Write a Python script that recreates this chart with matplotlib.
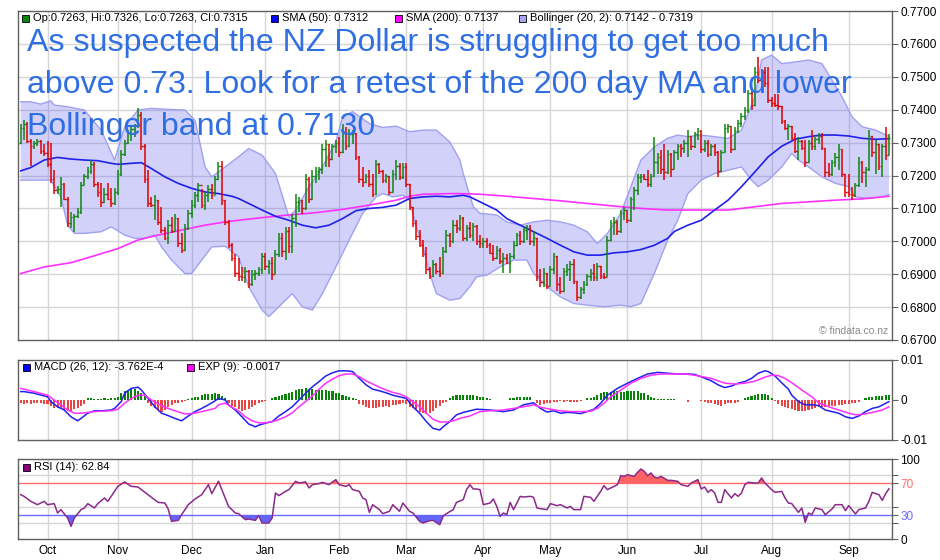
import numpy as np
import pandas as pd
import matplotlib as mpl
from matplotlib import pyplot as plt
from matplotlib.patches import Rectangle

mpl.use("Agg")
mpl.rcParams["font.family"] = ["Liberation Sans", "DejaVu Sans"]

W, H = 940, 560

# ---- daily OHLC bars (prices in pips, 1e-4) ----
first_open = 7300
high = [
    7358, 7368, 7363, 7310, 7305, 7312, 7307, 7297,
    7305, 7300, 7216, 7168, 7196, 7176, 7135, 7090, 7084, 7100, 7181, 7206, 7226, 7247, 7240, 7181, 7176, 7161, 7176, 7161, 7161,
    7216, 7277, 7307, 7338, 7348, 7358, 7404, 7394, 7297, 7216, 7135, 7140, 7125, 7105, 7044, 7064, 7074, 7084, 7070, 7024, 7054, 7095,
    7125, 7150, 7176, 7160, 7150, 7170, 7175, 7200, 7240, 7245, 7125, 7065, 6995, 6960, 6950, 6922, 6922, 6912, 6912, 6912, 6922, 6963,
    6963, 6943, 6953, 6973, 7024, 7024, 7044, 7044, 7084, 7145, 7135, 7125, 7206, 7195, 7216, 7226, 7226, 7297, 7307, 7295, 7297, 7307,
    7318, 7358, 7348, 7340, 7338, 7330, 7260, 7226, 7206, 7216, 7206, 7247, 7237, 7216, 7206, 7200, 7216, 7247, 7237, 7237,
    7237, 7175, 7105, 7064, 7034, 7004, 6983, 6922, 6943, 6933, 6953, 6983, 7034, 7024, 7064, 7064, 7080, 7075, 7050, 7060, 7055, 7050, 7020,
    7010, 7010, 6995, 6990, 6985, 6980, 6965, 6960, 6965, 7000, 7025, 7030, 7040, 7050, 7050, 7030, 7010, 6915, 6920, 6905,
    6925, 6965, 6955, 6890, 6920, 6930, 6940, 6945, 6880, 6860, 6880, 6900, 6915, 6930, 6935, 6925, 6905, 7015, 7065, 7075, 7065, 7095, 7105,
    7095, 7135, 7166, 7206, 7206, 7206, 7216, 7206, 7318, 7267, 7277, 7297, 7277, 7267, 7277, 7297, 7297, 7307, 7338, 7320, 7333, 7343,
    7338, 7307, 7307, 7297, 7297, 7275, 7277, 7358, 7358, 7350, 7348, 7368, 7389, 7409, 7460, 7460, 7530, 7561, 7525, 7530, 7530,
    7440, 7449, 7449, 7410, 7368, 7358, 7350, 7328, 7318, 7307, 7307, 7307, 7338, 7318, 7328, 7328, 7285, 7237, 7247, 7267, 7297, 7280, 7206,
    7206, 7166, 7176, 7257, 7245, 7226, 7338, 7320, 7307, 7297, 7297, 7348, 7326,
]
low = [
    7297, 7307, 7300, 7228, 7280, 7290, 7265, 7260,
    7226, 7176, 7145, 7145, 7105, 7125, 7044, 7039, 7029, 7070, 7084, 7170, 7190, 7205, 7166, 7135, 7105, 7115, 7125, 7105, 7110,
    7140, 7200, 7260, 7295, 7305, 7318, 7345, 7277, 7176, 7105, 7105, 7064, 7049, 7024, 7004, 6993, 7024, 7030, 6983, 6963, 6970, 7035,
    7070, 7100, 7120, 7100, 7095, 7120, 7130, 7140, 7185, 7110, 7050, 6980, 6940, 6890, 6880, 6880, 6872, 6857, 6865, 6882, 6895, 6902,
    6912, 6902, 6882, 6900, 6953, 6953, 6943, 6963, 6963, 7044, 7090, 7084, 7095, 7115, 7125, 7176, 7186, 7206, 7226, 7226, 7247, 7267,
    7257, 7267, 7277, 7287, 7297, 7247, 7176, 7166, 7176, 7166, 7135, 7140, 7206, 7176, 7176, 7140, 7150, 7186, 7186, 7190,
    7166, 7095, 7044, 7004, 6983, 6953, 6902, 6885, 6892, 6902, 6892, 6900, 6963, 6983, 6995, 7024, 7030, 7000, 7000, 7010, 7000, 6990, 6980,
    6980, 6980, 6960, 6940, 6945, 6930, 6905, 6930, 6905, 6945, 6985, 6990, 6995, 7005, 6990, 6985, 6880, 6860, 6860, 6855,
    6865, 6900, 6850, 6840, 6845, 6895, 6880, 6870, 6820, 6825, 6840, 6865, 6880, 6880, 6880, 6885, 6885, 6890, 7000, 7020, 7020, 7025, 7065,
    7055, 7060, 7095, 7140, 7176, 7186, 7166, 7166, 7196, 7206, 7206, 7186, 7205, 7196, 7220, 7247, 7257, 7267, 7257, 7277, 7285, 7307,
    7267, 7270, 7257, 7260, 7260, 7196, 7210, 7270, 7328, 7267, 7277, 7328, 7348, 7368, 7389, 7399, 7410, 7480, 7480, 7470, 7419,
    7409, 7409, 7399, 7358, 7338, 7307, 7307, 7267, 7247, 7277, 7226, 7240, 7277, 7277, 7297, 7277, 7196, 7196, 7200, 7226, 7216, 7196, 7135,
    7135, 7125, 7135, 7166, 7176, 7166, 7215, 7257, 7206, 7216, 7196, 7247, 7263,
]
close = [
    7345, 7358, 7305, 7290, 7300, 7305, 7275, 7268,
    7235, 7190, 7155, 7160, 7175, 7130, 7055, 7075, 7078, 7090, 7170, 7200, 7215, 7235, 7175, 7150, 7120, 7145, 7130, 7115, 7150,
    7205, 7265, 7300, 7330, 7340, 7350, 7385, 7290, 7190, 7115, 7110, 7125, 7060, 7035, 7010, 7050, 7030, 7070, 6995, 6975, 7040, 7085,
    7110, 7140, 7170, 7110, 7140, 7160, 7140, 7190, 7230, 7125, 7060, 6990, 6950, 6905, 6895, 6890, 6910, 6870, 6900, 6905, 6915, 6955,
    6925, 6935, 6900, 6960, 7010, 6970, 7030, 6985, 7070, 7120, 7125, 7100, 7190, 7130, 7200, 7215, 7220, 7280, 7295, 7250, 7290, 7300,
    7270, 7330, 7290, 7325, 7330, 7255, 7190, 7180, 7200, 7175, 7145, 7235, 7215, 7185, 7200, 7150, 7205, 7230, 7195, 7225,
    7175, 7105, 7055, 7015, 6990, 6960, 6915, 6895, 6930, 6910, 6905, 6970, 7020, 7000, 7050, 7040, 7070, 7010, 7040, 7020, 7045, 7000, 6995,
    7000, 6990, 6965, 6950, 6975, 6940, 6950, 6935, 6955, 6990, 7020, 7000, 7035, 7040, 7000, 7010, 6895, 6875, 6905, 6865,
    6915, 6955, 6870, 6850, 6910, 6915, 6930, 6880, 6830, 6855, 6870, 6895, 6905, 6890, 6925, 6895, 6890, 7005, 7055, 7060, 7030, 7085, 7095,
    7065, 7130, 7155, 7195, 7200, 7190, 7175, 7200, 7240, 7255, 7220, 7210, 7265, 7220, 7270, 7290, 7285, 7300, 7320, 7290, 7325, 7335,
    7280, 7300, 7265, 7290, 7270, 7215, 7270, 7345, 7350, 7280, 7335, 7360, 7380, 7400, 7450, 7415, 7515, 7490, 7515, 7480, 7430,
    7420, 7415, 7410, 7365, 7345, 7350, 7315, 7275, 7305, 7285, 7240, 7300, 7290, 7310, 7320, 7285, 7210, 7205, 7240, 7255, 7280, 7205, 7150,
    7145, 7140, 7170, 7240, 7210, 7220, 7320, 7270, 7295, 7230, 7290, 7263, 7315,
]

# ---- overlays on the price panel: (bar index, pips) ----
sma50 = [(0, 7214), (3, 7224), (7, 7247), (11, 7255), (15, 7250), (19, 7247), (23, 7245), (27, 7237),
         (29, 7234), (33, 7237), (36, 7239), (39, 7221), (43, 7196), (47, 7176), (51, 7161), (55, 7150),
         (59, 7145), (63, 7137), (65, 7130), (68, 7115), (72, 7095), (76, 7076), (80, 7064), (84, 7049),
         (88, 7041), (92, 7049), (96, 7069), (100, 7093), (104, 7100), (108, 7103), (112, 7110), (114, 7120),
         (116, 7130), (120, 7135), (124, 7137), (128, 7135), (132, 7140), (134, 7135), (137, 7120), (142, 7095),
         (145, 7069), (149, 7049), (153, 7029), (157, 7009), (161, 6988), (165, 6968), (169, 6958), (173, 6958),
         (177, 6965), (181, 6968), (185, 6975), (189, 6988), (193, 7009), (195, 7030), (199, 7049), (203, 7064),
         (207, 7095), (211, 7125), (215, 7166), (219, 7211), (223, 7257), (227, 7289), (231, 7310), (235, 7318),
         (239, 7323), (243, 7323), (247, 7320), (251, 7313), (255, 7310), (259, 7312)]
sma200 = [(0, 6902), (7, 6922), (15, 6935), (21, 6953), (29, 6978), (35, 7004), (41, 7019), (47, 7032),
          (55, 7049), (61, 7059), (65, 7064), (72, 7072), (80, 7080), (88, 7087), (96, 7097), (104, 7110),
          (112, 7125), (116, 7137), (120, 7143), (128, 7145), (131, 7145), (137, 7143), (145, 7137), (153, 7130),
          (161, 7123), (169, 7115), (177, 7107), (185, 7100), (193, 7095), (203, 7095), (211, 7095), (219, 7105),
          (227, 7115), (235, 7120), (243, 7125), (251, 7129), (259, 7137)]
boll_upper = [(0, 7424), (3, 7424), (6, 7417), (9, 7427), (10, 7414), (14, 7409), (19, 7399), (24, 7338),
              (28, 7247), (31, 7348), (35, 7399), (39, 7404), (44, 7401), (49, 7399), (52, 7368), (55, 7226),
              (57, 7196), (61, 7226), (65, 7257), (68, 7282), (72, 7262), (76, 7206), (80, 7074), (82, 7095),
              (86, 7166), (90, 7226), (94, 7302), (96, 7378), (99, 7394), (104, 7358), (108, 7346), (112, 7350),
              (116, 7333), (120, 7338), (124, 7338), (128, 7302), (131, 7247), (132, 7206), (135, 7105), (137, 7085),
              (142, 7080), (145, 7059), (149, 7049), (153, 7059), (157, 7064), (161, 7059), (165, 7049), (169, 7029),
              (172, 6993), (175, 7024), (179, 7085), (182, 7166), (185, 7247), (189, 7287), (193, 7313), (196, 7323),
              (199, 7318), (203, 7323), (207, 7318), (211, 7313), (215, 7338), (219, 7439), (221, 7551), (224, 7566),
              (227, 7540), (231, 7545), (235, 7551), (239, 7540), (242, 7490), (245, 7439), (248, 7378), (251, 7348),
              (255, 7338), (259, 7319)]
boll_lower = [(0, 7186), (5, 7186), (9, 7186), (12, 7135), (14, 7049), (16, 7024), (19, 7024), (24, 7029),
              (27, 7044), (31, 7019), (34, 7009), (37, 7009), (40, 7019), (42, 6983), (45, 6943), (49, 6902),
              (51, 6902), (54, 6943), (57, 6983), (61, 6985), (65, 6953), (68, 6862), (72, 6791), (74, 6771),
              (78, 6811), (81, 6841), (84, 6801), (87, 6791), (90, 6841), (94, 6922), (98, 7004), (102, 7085),
              (106, 7135), (108, 7145), (111, 7135), (114, 7140), (116, 7125), (118, 7044), (120, 6983), (122, 6902),
              (124, 6841), (128, 6821), (131, 6826), (134, 6862), (136, 6892), (139, 6897), (143, 6922), (147, 6943),
              (151, 6943), (153, 6902), (157, 6862), (161, 6831), (165, 6811), (169, 6806), (174, 6801), (179, 6806),
              (182, 6801), (185, 6811), (189, 6902), (193, 7004), (196, 7064), (199, 7145), (203, 7186), (207, 7206),
              (211, 7216), (215, 7226), (218, 7186), (220, 7166), (223, 7186), (227, 7226), (230, 7267), (232, 7247),
              (235, 7226), (239, 7196), (243, 7176), (247, 7166), (249, 7135), (253, 7130), (257, 7135), (259, 7142)]

# ---- MACD panel (1e-4 units) ----
macd_hist = [
    -8, -9, -8, -9, -8, -7, -8, -9,
    -10, -15, -20, -21, -23, -25, -27, -29, -23, -20, -16, -10, 6, 6, 3, 3, 3, 4, 3, 4, 6,
    8, 18, 23, 25, 27, 27, 23, 17, 10, -8, -15, -21, -25, -29, -25, -17, -12, -8, -7, -4, -3, 3,
    4, 7, 8, 12, 14, 15, 14, 17, 15, 10, 4, -8, -15, -18, -23, -27, -25, -23, -17, -12, -8, -4,
    -2, -1, 4, 8, 11, 12, 14, 18, 21, 25, 27, 28, 29, 27, 28, 25, 25, 25, 24, 23, 22, 18,
    17, 12, 10, 8, 6, 2, -10, -12, -17, -21, -21, -21, -18, -18, -15, -17, -12, -12, -10, -8,
    -10, -17, -21, -25, -29, -33, -35, -33, -27, -21, -15, -7, -4, 4, 11, 12, 12, 12, 12, 12, 12, 11, 8,
    7, 4, 2, 1, 0, 0, -1, 0, 4, 6, 8, 8, 8, 8, 7, 0, -8, -12, -10, -7,
    -7, -5, -5, -3, -4, -3, -5, -6, -5, -3, -1, 4, 4, 7, 12, 17, 20, 21, 21, 22, 23, 21, 21,
    22, 23, 22, 22, 18, 17, 12, 8, 6, 3, 3, 2, 2, 2, 2, 1, 0, 0, -4, 0, 0, 0,
    -3, -5, -7, -8, -10, -13, -15, -11, -8, -8, -7, -4, 0, 4, 8, 11, 13, 15, 15, 15, 12,
    4, -3, -10, -15, -18, -21, -23, -25, -27, -28, -27, -25, -23, -21, -18, -18, -17, -15, -15, -15, -12, -12, -11,
    -10, -8, -7, -4, 0, 4, 7, 8, 10, 10, 11, 12, 13,
]
macd_line = [(0, 21), (1, 21), (4, 17), (8, 8), (9, -4), (11, -17), (13, -25), (15, -42), (17, -52), (18, -46),
             (20, -33), (22, -27), (24, -27), (27, -25), (28, -21), (30, -4), (31, 17), (33, 29), (35, 32), (36, 25),
             (38, 4), (40, -17), (42, -33), (44, -39), (46, -46), (48, -52), (50, -40), (52, -29), (54, -21), (56, -12),
             (58, -2), (59, 4), (61, 0), (62, -12), (64, -25), (66, -42), (68, -60), (70, -67), (71, -63), (73, -58),
             (75, -54), (77, -40), (79, -29), (81, -17), (83, 0), (85, 17), (87, 33), (89, 46), (91, 60), (93, 68),
             (95, 73), (97, 73), (99, 71), (101, 54), (103, 38), (105, 27), (107, 23), (109, 18), (111, 12), (113, 8),
             (115, 4), (117, -17), (119, -33), (121, -54), (123, -71), (125, -75), (126, -67), (128, -54), (130, -37),
             (132, -31), (134, -27), (136, -23), (140, -25), (144, -29), (147, -25), (150, -12), (153, -7), (155, -21),
             (157, -30), (159, -27), (161, -33), (163, -31), (165, -32), (167, -34), (169, -29), (171, -23), (173, -8),
             (175, 12), (178, 29), (181, 42), (184, 54), (187, 65), (190, 69), (193, 67), (196, 65), (199, 65),
             (201, 64), (203, 58), (206, 48), (208, 38), (210, 31), (212, 35), (214, 42), (216, 46), (218, 54),
             (220, 67), (222, 73), (223, 71), (225, 60), (227, 43), (229, 27), (230, 12), (232, -4), (234, -12),
             (236, -12), (238, -14), (240, -25), (242, -29), (244, -33), (246, -42), (248, -46), (250, -40),
             (252, -29), (254, -21), (256, -17), (259, -4)]
macd_signal = [(0, 29), (4, 21), (8, 12), (10, 0), (12, -12), (14, -25), (16, -33), (18, -33), (20, -31), (22, -29),
               (24, -28), (27, -27), (29, -23), (31, -8), (33, 4), (35, 12), (37, 12), (39, 0), (41, -10), (43, -18),
               (46, -27), (49, -35), (52, -33), (55, -27), (58, -21), (59, -12), (61, -8), (63, -18), (65, -27),
               (67, -42), (69, -52), (71, -57), (73, -57), (76, -52), (79, -42), (81, -32), (83, -17), (85, -4),
               (87, 10), (89, 27), (91, 42), (93, 52), (95, 61), (97, 65), (99, 65), (101, 58), (103, 48), (105, 40),
               (107, 32), (109, 25), (111, 19), (113, 15), (115, 8), (117, -4), (119, -17), (121, -33), (123, -48),
               (125, -55), (127, -55), (129, -52), (131, -46), (134, -40), (137, -29), (140, -27), (144, -25),
               (147, -21), (150, -17), (153, -12), (155, -18), (158, -23), (161, -27), (164, -29), (167, -29),
               (170, -28), (172, -21), (174, -8), (176, 8), (179, 25), (182, 42), (185, 54), (188, 62), (191, 65),
               (194, 65), (198, 65), (201, 62), (206, 54), (210, 42), (213, 40), (216, 42), (219, 47), (222, 57),
               (224, 62), (226, 61), (228, 54), (230, 43), (233, 25), (236, 8), (238, -7), (241, -17), (244, -25),
               (247, -33), (249, -37), (251, -36), (254, -31), (257, -25), (259, -17)]

# ---- RSI (14) ----
rsi = [(0, 55.4), (1, 53.3), (3, 47.1), (5, 42.9), (7, 47.1), (8, 42.9), (10, 44.2), (11, 32.5), (12, 36.7),
       (14, 26.3), (15, 15.8), (16, 26.3), (18, 36.7), (19, 38.8), (20, 44.2), (22, 38.8), (23, 44.2), (25, 51.3),
       (26, 47.1), (28, 59.6), (29, 65.8), (31, 71.3), (33, 65.8), (35, 65.0), (36, 61.7), (38, 55.4), (40, 49.2),
       (41, 45.8), (43, 45.0), (44, 37.5), (45, 22.1), (47, 23.3), (48, 30.4), (50, 42.9), (52, 50.0), (54, 55.4),
       (56, 67.9), (57, 56.7), (59, 72.1), (61, 51.3), (62, 40.8), (64, 32.5), (65, 31.7), (67, 24.2), (68, 25.0),
       (70, 23.3), (71, 29.2), (72, 20.0), (74, 20.0), (75, 26.3), (76, 57.5), (77, 54.2), (79, 59.6), (80, 61.7),
       (82, 72.1), (83, 70.0), (85, 71.3), (86, 63.8), (87, 67.9), (89, 69.2), (90, 70.8), (92, 67.9), (93, 71.3),
       (94, 74.2), (95, 67.9), (97, 65.8), (98, 67.9), (99, 61.7), (101, 59.6), (102, 51.3), (103, 49.2),
       (104, 33.3), (105, 42.9), (107, 36.7), (108, 31.7), (110, 34.6), (111, 42.9), (113, 34.6), (114, 45.0),
       (116, 34.6), (117, 32.5), (119, 22.1), (120, 20.0), (122, 22.9), (123, 23.3), (125, 17.9), (126, 28.3),
       (127, 31.7), (129, 36.7), (130, 45.8), (132, 49.2), (133, 61.7), (134, 67.9), (135, 62.5), (136, 62.5),
       (137, 61.7), (138, 42.9), (140, 45.0), (141, 50.0), (142, 40.8), (143, 28.3), (144, 32.5), (145, 30.4),
       (146, 45.8), (147, 36.7), (149, 53.3), (150, 52.5), (152, 53.3), (153, 52.1), (154, 38.8), (155, 37.9),
       (157, 36.7), (158, 44.2), (160, 41.7), (161, 42.9), (163, 38.8), (164, 40.8), (165, 36.7), (167, 36.7),
       (168, 53.3), (170, 52.1), (171, 47.1), (173, 59.6), (174, 66.7), (175, 61.7), (177, 65.8), (178, 67.9),
       (179, 79.2), (180, 78.3), (181, 80.4), (183, 78.3), (184, 83.3), (185, 87.5), (186, 84.6), (187, 79.2),
       (188, 82.5), (189, 77.5), (190, 76.3), (191, 78.3), (193, 73.3), (194, 73.3), (196, 72.1), (197, 67.9),
       (199, 65.8), (200, 70.0), (202, 74.2), (203, 62.5), (204, 65.0), (205, 58.3), (206, 61.7), (207, 57.5),
       (208, 45.8), (209, 45.8), (210, 61.7), (212, 51.3), (213, 56.7), (214, 53.3), (215, 57.5), (216, 67.9),
       (217, 70.8), (219, 70.0), (220, 70.0), (221, 76.3), (222, 70.0), (224, 61.7), (225, 58.3), (227, 59.6),
       (228, 51.3), (229, 45.0), (230, 44.2), (232, 33.3), (233, 38.8), (234, 20.8), (235, 32.5), (236, 30.4),
       (237, 38.8), (239, 36.7), (240, 30.4), (242, 37.5), (243, 42.9), (245, 42.9), (246, 35.4), (247, 41.7),
       (249, 31.3), (250, 36.7), (252, 38.8), (253, 47.1), (254, 58.3), (256, 55.4), (257, 48.3), (258, 56.7),
       (259, 62.8)]

GREEN = "#0f850f"
RED = "#e00000"
GRID = "#d6d6d6"
SPINE = "#606060"

dates = pd.bdate_range("2016-09-21", periods=len(close))
month_idx = [i for i in range(1, len(dates)) if dates[i].month != dates[i - 1].month]
month_lab = [dates[i].strftime("%b") for i in month_idx]


def pts(series, scale=1e-4):
    a = np.array(series, dtype=float)
    return a[:, 0], a[:, 1] * scale


def style_axes(ax):
    for s in ax.spines.values():
        s.set_color(SPINE)
        s.set_linewidth(1.0)
    ax.yaxis.tick_right()
    ax.tick_params(axis="y", direction="out", length=4, width=0.8, color=SPINE,
                   labelsize=8.5, pad=2)
    ax.tick_params(axis="x", length=0, labelsize=8.5, pad=4)
    ax.set_xlim(-0.8, 259.9)
    ax.set_xticks(month_idx)
    ax.set_xticklabels([])
    for m in month_idx:
        ax.axvline(m, color=GRID, lw=1.0, zorder=0)


def legend_box(x, y, color, text):
    fig.add_artist(Rectangle((x / W, 1 - (y + 3.5) / H), 7 / W, 7 / H, transform=fig.transFigure,
                             facecolor=color, edgecolor="black", lw=0.6))
    fig.text((x + 11) / W, 1 - y / H, text, fontsize=8, va="center", ha="left")


fig = plt.figure(figsize=(W / 100, H / 100), dpi=100)
ax = fig.add_axes([18 / W, 1 - 340 / H, 874 / W, 329 / H])
ax_m = fig.add_axes([18 / W, 1 - 440 / H, 874 / W, 80 / H])
ax_r = fig.add_axes([18 / W, 1 - 539 / H, 874 / W, 80 / H])

# ---- price panel ----
style_axes(ax)
ax.set_ylim(0.67, 0.77)
yt = np.round(np.arange(0.67, 0.7701, 0.01), 2)
ax.set_yticks(yt)
ax.set_yticklabels([f"{v:.4f}" for v in yt])
for v in yt[1:-1]:
    ax.axhline(v, color=GRID, lw=1.0, zorder=0)

ux, uy = pts(boll_upper)
lx, ly = pts(boll_lower)
ax.fill(np.r_[ux, lx[::-1]], np.r_[uy, ly[::-1]], facecolor="#5858f0", alpha=0.27,
        edgecolor="none", zorder=1)
ax.plot(ux, uy, color="#a0a0f2", lw=1.0, zorder=1.5)
ax.plot(lx, ly, color="#a0a0f2", lw=1.0, zorder=1.5)

x200, y200 = pts(sma200)
ax.plot(x200, y200, color="#ff30ff", lw=1.2, zorder=2)
x50, y50 = pts(sma50)
ax.plot(x50, y50, color="#2020e8", lw=1.2, zorder=2)

x = np.arange(len(close))
c = np.array(close) * 1e-4
hi = np.array(high) * 1e-4
lo = np.array(low) * 1e-4
o = np.r_[first_open * 1e-4, c[:-1]]
cols = np.where(c >= o, GREEN, RED)
ax.vlines(x, lo, hi, colors=cols, lw=1.1, zorder=3)
ax.hlines(o, x - 0.45, x, colors=cols, lw=1.0, zorder=3)
ax.hlines(c, x, x + 0.45, colors=cols, lw=1.0, zorder=3)

ax.text(0.995, 0.012, "\u00a9 findata.co.nz", transform=ax.transAxes, ha="right", va="bottom",
        fontsize=7.5, color="#8a8a8a")

# ---- MACD panel ----
style_axes(ax_m)
ax_m.set_ylim(-0.01, 0.01)
ax_m.set_yticks([-0.01, 0, 0.01])
ax_m.set_yticklabels(["-0.01", "0", "0.01"])
hist = np.array(macd_hist) * 1e-4
ax_m.bar(x, hist, width=0.62, color=np.where(hist >= 0, "#0a820a", "#e84545"), zorder=2)
mx, my = pts(macd_line)
ax_m.plot(mx, my, color="#2020f0", lw=1.1, zorder=3)
sx, sy = pts(macd_signal)
ax_m.plot(sx, sy, color="#ff30ff", lw=1.1, zorder=3)

# ---- RSI panel ----
style_axes(ax_r)
ax_r.set_ylim(0, 100)
ax_r.set_yticks([0, 20, 30, 40, 70, 80, 100])
ax_r.set_yticklabels(["0", "", "30", "", "70", "", "100"])
for v in (20, 40, 80):
    ax_r.axhline(v, color=GRID, lw=1.0, zorder=0)
ax_r.axhline(70, color="#ff6a6a", lw=1.0, zorder=1)
ax_r.axhline(30, color="#6a6aff", lw=1.0, zorder=1)
labs = ax_r.get_yticklabels()
labs[4].set_color("#ff6a6a")
labs[2].set_color("#6a6aff")
rx, ry = pts(rsi, scale=1.0)
ax_r.fill_between(rx, ry, 70, where=ry >= 70, interpolate=True, color="#ff6464", lw=0, zorder=2)
ax_r.fill_between(rx, ry, 30, where=ry <= 30, interpolate=True, color="#6464ff", lw=0, zorder=2)
ax_r.plot(rx, ry, color="#8a2a8a", lw=1.1, zorder=3)
ax_r.set_xticklabels(month_lab)

# ---- legends ----
legend_box(22, 18, GREEN, "Op:0.7263, Hi:0.7326, Lo:0.7263, Cl:0.7315")
legend_box(271, 18, "#0000ff", "SMA (50): 0.7312")
legend_box(395, 18, "#ff00ff", "SMA (200): 0.7137")
legend_box(519, 18, "#a8a8f0", "Bollinger (20, 2): 0.7142 - 0.7319")
legend_box(23, 367, "#0000ff", "MACD (26, 12): -3.762E-4")
legend_box(187, 367, "#ff00ff", "EXP (9): -0.0017")
legend_box(23, 467, "#800080", "RSI (14): 62.84")

# ---- comment text ----
note = ["As suspected the NZ Dollar is struggling to get too much",
        "above 0.73. Look for a retest of the 200 day MA and lower",
        "Bollinger band at 0.7130"]
for k, line in enumerate(note):
    fig.text(27 / W, 1 - (51 + 42 * k) / H, line, fontsize=23.1, color="#2f6fe2",
             va="baseline", ha="left")

fig.savefig("out.png", dpi=100)
plt.close(fig)
